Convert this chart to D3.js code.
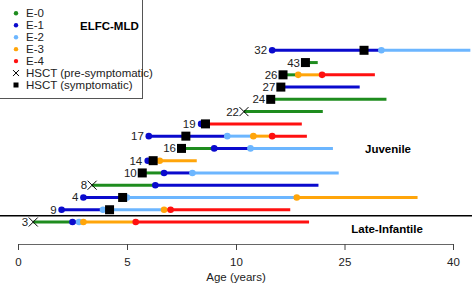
<!DOCTYPE html>
<html>
<head>
<meta charset="utf-8">
<script src="https://cdn.jsdelivr.net/npm/d3@7"></script>
<style>
  body { margin: 0; background: #fff; }
  svg { display: block; font-family: "Liberation Sans", Arial, sans-serif; }
</style>
</head>
<body>
<div id="chart"></div>
<script>
// --- data ---
const patientIds = ["32", "43", "26", "27", "24", "22", "19", "17", "16", "14", "10", "8", "4", "9", "3"];
// age at end of follow-up, per patient (same order)
const lastAge = [42.4, 21.3, 29.2, 27.1, 30.8, 22.0, 19.1, 19.8, 23.4, 8.2, 24.2, 21.4, 35.1, 17.5, 20.1];
// HSCT age and type, per patient
const hsctAge = [27.7, 19.6, 16.5, 16.2, 14.8, 11.1, 8.6, 7.7, 7.5, 6.2, 5.7, 3.4, 4.8, 4.2, 0.7];
const hsctType = ["sym", "sym", "sym", "sym", "sym", "pre", "sym", "sym", "sym", "sym", "sym", "pre", "sym", "sym", "pre"];
// stage changes: [patient, age, stage]
const stageChanges = [
  ["32", 15.0, "E-1"], ["32", 30.1, "E-2"],
  ["43", 19.6, "E-0"],
  ["26", 16.5, "E-0"], ["26", 18.6, "E-3"], ["26", 21.9, "E-4"],
  ["27", 16.2, "E-1"],
  ["24", 14.8, "E-0"],
  ["22", 11.1, "E-0"],
  ["19", 8.4, "E-1"], ["19", 8.6, "E-4"],
  ["17", 6.0, "E-1"], ["17", 9.6, "E-2"], ["17", 12.4, "E-3"], ["17", 15.0, "E-4"],
  ["16", 7.5, "E-0"], ["16", 9.0, "E-1"], ["16", 12.0, "E-2"],
  ["14", 5.95, "E-1"], ["14", 6.5, "E-3"],
  ["10", 5.7, "E-0"], ["10", 6.7, "E-1"], ["10", 8.0, "E-2"],
  ["8", 3.4, "E-0"], ["8", 6.3, "E-1"],
  ["4", 3.0, "E-1"], ["4", 5.0, "E-2"], ["4", 18.4, "E-3"],
  ["9", 2.0, "E-1"], ["9", 3.9, "E-2"], ["9", 6.7, "E-3"], ["9", 7.0, "E-4"],
  ["3", 0.7, "E-0"], ["3", 2.5, "E-1"], ["3", 2.8, "E-2"], ["3", 3.0, "E-3"], ["3", 5.4, "E-4"]
];
const stages = ["E-0", "E-1", "E-2", "E-3", "E-4"];
const tickAges = [0, 5, 10, 25, 40];

// --- setup ---
const width = 472, height = 283;
const colors = { "E-0": "#1e8c1e", "E-1": "#0a0acd", "E-2": "#6cb6ff", "E-3": "#ffa50a", "E-4": "#ff1010" };

const svg = d3.select("#chart").append("svg")
  .attr("width", width).attr("height", height);

const x = d3.scaleLinear().domain([0, 10, 40]).range([18, 236, 453]);
const y = d3.scalePoint().domain(patientIds).range([50.3, 222]);

// build segments from stage changes
const segments = [];
patientIds.forEach((p, i) => {
  const ch = stageChanges.filter(c => c[0] === p);
  ch.forEach((c, j) => {
    const end = j < ch.length - 1 ? ch[j + 1][1] : lastAge[i];
    segments.push({ p: p, stage: c[2], a: c[1], b: end });
  });
});

svg.append("g").selectAll("line")
  .data(segments)
  .join("line")
  .attr("x1", d => x(d.a)).attr("x2", d => x(d.b))
  .attr("y1", d => y(d.p)).attr("y2", d => y(d.p))
  .attr("stroke", d => colors[d.stage])
  .attr("stroke-width", 3);

svg.append("g").selectAll("circle")
  .data(stageChanges.filter(c => c[2] !== "E-0"))
  .join("circle")
  .attr("cx", d => x(d[1])).attr("cy", d => y(d[0]))
  .attr("r", 3.3)
  .attr("fill", d => colors[d[2]]);

// HSCT markers
const hsct = patientIds.map((p, i) => ({ p: p, age: hsctAge[i], type: hsctType[i] }));
const mk = svg.append("g");
hsct.filter(d => d.type === "sym").forEach(d => {
  mk.append("rect")
    .attr("x", x(d.age) - 4.5).attr("y", y(d.p) - 4.5)
    .attr("width", 9).attr("height", 9).attr("fill", "#000");
});
hsct.filter(d => d.type === "pre").forEach(d => {
  const cx = x(d.age), cy = y(d.p), s = 4.5;
  mk.append("path")
    .attr("d", `M${cx - s},${cy - s}L${cx + s},${cy + s}M${cx - s},${cy + s}L${cx + s},${cy - s}`)
    .attr("stroke", "#000").attr("stroke-width", 1);
});

// row labels
svg.append("g").selectAll("text")
  .data(patientIds.map((p, i) => {
    const first = d3.min(stageChanges.filter(c => c[0] === p), c => c[1]);
    return { p: p, start: Math.min(first, hsctAge[i]), sq: hsctType[i] === "sym" && hsctAge[i] <= first + 0.3 };
  }))
  .join("text")
  .attr("x", d => x(d.start) - (d.sq ? 5.5 : 5))
  .attr("y", d => y(d.p) + 4)
  .attr("text-anchor", "end")
  .attr("font-size", 11.5)
  .attr("fill", "#222")
  .text(d => d.p);

// separator between juvenile and late-infantile
svg.append("line")
  .attr("x1", 0).attr("x2", width)
  .attr("y1", (y("9") + y("3")) / 2).attr("y2", (y("9") + y("3")) / 2)
  .attr("stroke", "#000").attr("stroke-width", 1.5);

svg.append("text").attr("x", 388).attr("y", 153)
  .attr("text-anchor", "middle").attr("font-size", 11.5).attr("font-weight", "bold")
  .text("Juvenile");
svg.append("text").attr("x", 387).attr("y", 233)
  .attr("text-anchor", "middle").attr("font-size", 11.5).attr("font-weight", "bold")
  .text("Late-Infantile");

// axis
const axis = svg.append("g")
  .attr("transform", "translate(0,244)")
  .call(d3.axisBottom(x).tickValues(tickAges).tickSizeOuter(0).tickSize(6).tickPadding(8));
axis.select(".domain").attr("stroke", "#666");
axis.selectAll(".tick line").attr("stroke", "#444");
axis.selectAll(".tick text").attr("font-size", 11.5).attr("fill", "#222")
  .attr("font-family", "Liberation Sans, Arial, sans-serif");

svg.append("text").attr("x", 236).attr("y", 280.5)
  .attr("text-anchor", "middle").attr("font-size", 11.5).attr("fill", "#222")
  .text("Age (years)");

// legend
const lg = svg.append("g");
lg.append("rect").attr("x", -0.5).attr("y", -0.5).attr("width", 143).attr("height", 99)
  .attr("fill", "none").attr("stroke", "#555").attr("stroke-width", 1);
const legendY = d3.scalePoint().domain([...stages, "pre", "sym"]).range([13.3, 85]);
stages.forEach(s => {
  lg.append("circle").attr("cx", 16).attr("cy", legendY(s)).attr("r", 2.2).attr("fill", colors[s]);
  lg.append("text").attr("x", 26).attr("y", legendY(s) + 4).attr("font-size", 11.5).attr("fill", "#222").text(s);
});
{
  const cy = legendY("pre"), s = 3;
  lg.append("path").attr("d", `M${16 - s},${cy - s}L${16 + s},${cy + s}M${16 - s},${cy + s}L${16 + s},${cy - s}`)
    .attr("stroke", "#000").attr("stroke-width", 1);
  lg.append("text").attr("x", 26).attr("y", cy + 4).attr("font-size", 11.5).attr("fill", "#222").text("HSCT (pre-symptomatic)");
  const cs = legendY("sym");
  lg.append("rect").attr("x", 13.5).attr("y", cs - 2.5).attr("width", 5).attr("height", 5).attr("fill", "#000");
  lg.append("text").attr("x", 26).attr("y", cs + 4).attr("font-size", 11.5).attr("fill", "#222").text("HSCT (symptomatic)");
}
lg.append("text").attr("x", 80).attr("y", 29.5).attr("font-size", 11.5).attr("font-weight", "bold")
  .text("ELFC-MLD");
</script>
</body>
</html>
